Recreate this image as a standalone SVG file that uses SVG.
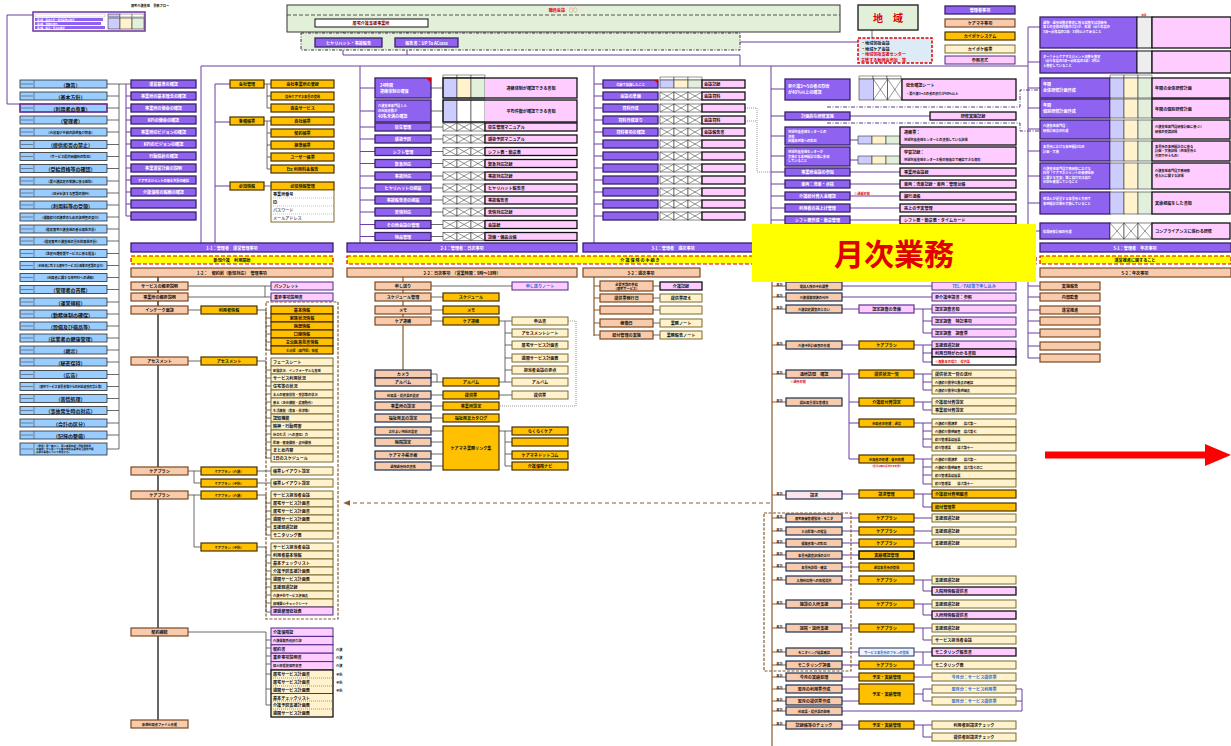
<svg xmlns="http://www.w3.org/2000/svg" width="1231" height="746" viewBox="0 0 1231 746">
<style>
text{font-family:"Noto Sans CJK JP","Noto Sans",sans-serif;font-size:5px;font-weight:700;text-anchor:middle;dominant-baseline:central;fill:#111}
.w{fill:#fff}.l{text-anchor:start}.s{font-size:4.1px}.t{font-size:3.2px}.r{fill:#e00000}.b{fill:#1f6fd0}
.pu{fill:#8f62f0;stroke:#3a2168;stroke-width:1.3}
.pk{fill:#ffccff;stroke:#4b2a85;stroke-width:1}
.pkb{fill:#ffccff;stroke:#111;stroke-width:1.3}
.or{fill:#ffc000;stroke:#4a3000;stroke-width:1.2}
.ly{fill:#fff2cc;stroke:#7a6a30;stroke-width:1}
.pe{fill:#f8cbad;stroke:#1f3050;stroke-width:1.2}
.pb{fill:#f8cbad;stroke:#7a4a20;stroke-width:1.2}
.c1{fill:#ccccff;stroke:#333;stroke-width:.6}.c2{fill:#fff2cc;stroke:#333;stroke-width:.6}.c3{fill:#e2efda;stroke:#333;stroke-width:.6}
.ob{fill:none;stroke:#111;stroke-width:1.3}
.cn{fill:none;stroke:#7a5aa8;stroke-width:1}
.cg{fill:none;stroke:#444;stroke-width:.8}
.cb{fill:none;stroke:#8b5a2b;stroke-width:1.2}
.cp{fill:none;stroke:#6a3fa0;stroke-width:1}
.cd{fill:none;stroke:#555;stroke-width:.6;stroke-dasharray:1,1}
.dd{fill:none;stroke:#5a3a8a;stroke-width:1;stroke-dasharray:4,1.5,1,1.5}
</style>
<defs>
<g id="x3"><rect width="14" height="8" fill="#fff" stroke="#333" stroke-width=".6"/><rect x="14" width="14" height="8" fill="#fff" stroke="#333" stroke-width=".6"/><rect x="28" width="14" height="8" fill="#fff" stroke="#333" stroke-width=".6"/><path d="M0 0L14 8M14 0L0 8M14 0L28 8M28 0L14 8M28 0L42 8M42 0L28 8" stroke="#333" stroke-width=".5" fill="none"/></g>
<g id="lb"><rect width="87" height="8" fill="#99ccff" stroke="#2a2a2a" stroke-width=".8"/><path d="M14 0v8M1 4h12" stroke="#333" stroke-width=".5" fill="none"/></g>
<g id="hd"><rect width="14" height="3" fill="#fff" stroke="#333" stroke-width=".5"/><rect x="14" width="14" height="3" fill="#fff" stroke="#333" stroke-width=".5"/><rect x="28" width="14" height="3" fill="#fff" stroke="#333" stroke-width=".5"/></g>
<marker id="ah" viewBox="0 0 10 10" refX="9" refY="5" markerWidth="6" markerHeight="6" orient="auto"><path d="M0 1L10 5L0 9z" fill="#8b5a2b"/></marker>
</defs>
<rect width="1231" height="746" fill="#fff"/>

<g id="connectors">
<path class="cp" d="M33 15H7V104H20"/>
<path class="cp" d="M343 27V55M407 27V55M343 55H740V66M382 42H395M458 42H858M201 66H1028M1028 27V232M1028 27H1040M1028 62H1040M1028 88H1040M1028 108H1040M1028 129H1040M1028 151H1040M1028 176H1040M1028 203H1040M1028 231H1040"/>
<path class="cg" d="M872 30V38"/>
<path class="cg" d="M107 84H131M119 84V449M107 96H119M107 108H119M107 120H119M107 132H119M107 144.5H119M107 156.5H119M107 168.5H119M107 181H119M107 193H119M107 205H119M107 217H119M107 229H119M107 241H119M107 253.5H119M107 265.5H119M107 277.5H119M107 289.5H119M107 302H119M107 314H119M107 326H119M107 338H119M107 350H119M107 362H119M107 374.5H119M107 386.5H119M107 398.5H119M107 410.5H119M107 423H119M107 435H119M107 449H119"/>
<path class="cp" d="M126 84V216M126 96H131M126 108H131M126 120H131M126 132H131M126 144H131M126 156H131M126 168H131M126 180H131M126 192H131M126 204H131M126 216H131M201 66V243M215 84V243M215 84H230M215 122H230M215 186H230"/>
<path class="cg" d="M264 84H271M267 84V108H271M267 96H271M264 121H271M267 121V169H271M267 133H271M267 145H271M267 157H271M264 186H271"/>
<path class="cp" d="M360 66V243M360 88H375M360 111H375M360 127H375M360 139H375M360 151.5H375M360 163.5H375M360 176H375M360 188H375M360 200H375M360 212H375M360 224.5H375M360 236.5H375"/>
<path class="cg" d="M431 88H443M431 111H443M431 127H443M431 139H443M431 151.5H443M431 163.5H443M431 176H443M431 188H443M431 200H443M431 212H443M431 224.5H443M431 236.5H443"/>
<path class="cp" d="M594 66V243M594 84H603M594 96H603M594 108H603M594 120H603M594 132H603M594 144H603M594 156H603M594 168H603M594 180H603M594 192H603M594 204H603M594 216H603"/>
<path class="cd" d="M745 108H757V172H771M745 121H757"/>
<path class="cp" d="M771 66V243M771 89H785M771 116H785M771 136H785M771 156H785M771 172H785M771 184H785M771 196H785M771 208H785M771 220H785M850 116H930M850 172H900M850 184H900M850 196H900M850 208H900M850 220H900M850 140H858M850 160H858"/>
<path class="dd" d="M827 107H1020V90H1040M827 123H1020V131H1040"/>
<path class="cp" d="M1028 272V358M1028 286H1040M1028 297H1040M1028 310H1040M1028 321H1040M1028 333H1040M1028 346H1040M1028 358H1040"/>
<path class="cb" d="M158 277V724" style="stroke:#333;stroke-width:1.5"/>
<path class="cg" d="M188 286H265V297M265 286H271M188 297H271M188 310H201M257 310H266V350H271M266 318H271M266 326H271M266 334H271M266 342H271M188 361H201M257 361H266V458H271M266 370H271M266 378H271M266 386H271M266 394H271M266 402H271M266 410H271M266 418H271M266 426H271M266 434H271M266 442H271M266 450H271M188 471H201M194 471V483H201M257 471H271M257 483H271M188 495H201M194 495V547H201M257 495H266V535H271M266 503H271M266 511H271M266 519H271M266 527H271M257 547H266V612H271M266 555H271M266 563H271M266 571H271M266 579H271M266 587H271M266 595H271M266 603H271M188 632H266V705H271M266 640H271M266 648H271M266 656H271M266 664H271M266 674H271M266 689H271"/>
<path class="cb" d="M403 277V374M403 286H431M403 297H375M403 310H375M403 321H375"/>
<path class="cg" d="M431 286H512M431 297H443M431 310H443M431 321H443M431 374H437V382M431 382H443M431 395H443M431 406H443M431 418H443M431 431H443M431 442H443M431 454H443M431 466H443M499 321H512M505 321V382H512M505 333H512M505 345H512M505 358H512M505 370H512M499 382H505M499 395H512M499 431H512M505 431V466H512M505 442H512M505 454H512"/>
<path class="cd" d="M568 321H576V406H499"/>
<path class="cb" d="M594 277V336M594 286H600M594 298H600M594 310H600M594 323H600M594 335H600"/>
<path class="cg" d="M653 286H660M653 298H660M653 310H660M653 323H660M653 335H660"/>
<path class="cb" d="M772 280V746"/>
<path class="cb" d="M772 286H786M772 297H786M772 309H786M772 345H786M772 374H786M772 402H786M772 495H786M772 518H786M772 531H786M772 543H786M772 555H786M772 567H786M772 580H786M772 604H786M772 628H786M772 652H786M772 665H786M772 677H786M772 689H786M772 701H786M772 711H786M772 725H786"/>
<path class="cp" d="M842 286H932M842 297H932M842 309H859M914 309H932M923 309V333H932M923 321H932M842 345H859M914 345H932M923 345V362H932M923 353H932M842 374H859M849 374V459H859M849 402H859M849 423H859M914 374H932M923 374V390H932M923 382H932M914 402H932M923 402V410H932M914 423H932M923 423V447H932M923 431H932M923 439H932M914 459H932M923 459V484H932M923 467H932M923 475H932M842 494H859M914 494H932M923 494V507H932M842 518H859M914 518H932M842 531H859M914 531H932M842 543H859M914 543H932M842 555H859M842 567H859M842 580H859M914 580H932M923 580V591H932M842 604H859M914 604H932M923 604V615H932M842 628H859M914 628H932M923 628V640H932M842 652H859M914 652H932M923 652V664M842 665H859M914 665H932M842 677H859M914 677H932M842 689H859M842 701H859M914 694H923V689H932M923 694V701H932M842 711H1022V689H1016M1016 701H1022M842 725H859M914 725H932M923 725V737H932"/>
<path class="cb" d="M770 503H344" style="stroke-dasharray:4,3" marker-end="url(#ah)"/>
</g>

<g id="title"><text x="150" y="5" class="t">居宅介護支援　業務フロー</text></g>
<g id="toc"><rect x="33" y="12" width="112" height="19" fill="#fff" stroke="#7030a0" stroke-width="1.5"/><rect x="35" y="14" width="70" height="3" fill="#fff" stroke="#888" stroke-width=".3"/><rect x="35" y="18" width="68" height="3" fill="#8f62f0"/><rect x="35" y="22" width="66" height="3" fill="#8f62f0"/><rect x="35" y="26" width="70" height="3" fill="#8f62f0"/><rect x="108" y="14" width="12" height="3" class="c1"/><rect x="120" y="14" width="12" height="3" fill="#fff" stroke="#333" stroke-width=".4"/><rect x="132" y="14" width="12" height="3" fill="#fff" stroke="#333" stroke-width=".4"/><rect x="108" y="18" width="12" height="11" class="c1"/><rect x="120" y="18" width="12" height="11" class="c2"/><rect x="132" y="18" width="12" height="11" class="c3"/><text x="37" y="19.5" class="t w l" style="font-size:2.4px">第1章　基本方針・運営基準の確認</text><text x="37" y="23.5" class="t w l" style="font-size:2.4px">第2章　業務の流れ</text><text x="37" y="27.5" class="t w l" style="font-size:2.4px">第3章　帳票・書式の確認</text></g>

<g id="meeting"><rect x="287" y="5" width="553" height="27" fill="#e2efd9" stroke="#333" stroke-width="1"/><path d="M287 15H840" stroke="#333" stroke-width=".8" stroke-dasharray="4,2"/><text x="563" y="10" class="r s">職員会議　○○</text><rect x="315" y="19" width="113" height="8" fill="#fff" stroke="#111" stroke-width="1"/><text x="371" y="23" class="s" style="fill:#7f0000">居宅介護支援事業所</text></g>
<g id="report"><rect x="301" y="33" width="439" height="17" fill="#e2efd9" stroke="#333" stroke-width="1" stroke-dasharray="3,1.5,1,1.5"/><rect x="315" y="38" width="67" height="9" class="pu"/><text x="348.5" y="42.5" class="s w">ヒヤリハット・事故報告</text><rect x="395" y="38" width="63" height="9" class="pu"/><text x="426.5" y="42.5" class="s w">報告書：UP To ACcess</text></g>
<g id="region"><rect x="858" y="5" width="60" height="25" fill="#e2efd9" stroke="#333" stroke-width="1.5"/><text x="888" y="17.5" class="r" style="font-size:10px">地　域</text></g>
<g id="region-box"><rect x="858" y="38" width="74" height="25" fill="#ddebf7" stroke="#e00000" stroke-width="1.5" stroke-dasharray="3,1.5"/><text x="861" y="43" class="l s">・地域包括会議</text><text x="861" y="48.5" class="l s">・地域ケア会議</text><text x="861" y="54" class="l s r">・地域包括支援センター</text><text x="861" y="59.5" class="l s r">主催する勉強会参加　等</text></g>
<g id="legend"><rect x="945" y="6" width="70" height="8" class="pu"/><text x="980" y="10" class="s w">管理者事項</text><rect x="945" y="19" width="70" height="8" class="pb"/><text x="980" y="23" class="s">ケアマネ事項</text><rect x="945" y="32" width="70" height="8" class="or"/><text x="980" y="36" class="s">カイポケシステム</text><rect x="945" y="45" width="70" height="8" class="ly"/><text x="980" y="49" class="s">カイポケ帳票</text><rect x="945" y="56" width="70" height="8" class="pk"/><text x="980" y="60" class="s">参照書式</text></g>

<g id="left-list">
<use href="#lb" x="20" y="80"/><text x="70.5" y="84">（趣旨）</text>
<use href="#lb" x="20" y="92"/><text x="70.5" y="96">（基本方針）</text>
<use href="#lb" x="20" y="104"/><rect x="20" y="104" width="87" height="8" fill="none" stroke="#7030a0" stroke-width="1.5"/><text x="70.5" y="108">（利用者の尊重）</text>
<use href="#lb" x="20" y="116"/><text x="70.5" y="120">（管理者）</text>
<use href="#lb" x="20" y="128"/><text x="70.5" y="132" class="t">（内容及び手続の説明及び同意）</text>
<use href="#lb" x="20" y="140.5"/><text x="70.5" y="144.5">（提供拒否の禁止）</text>
<use href="#lb" x="20" y="152.5"/><text x="70.5" y="156.5" class="t">（サービス提供困難時の対応）</text>
<use href="#lb" x="20" y="164.5"/><text x="70.5" y="168.5">（受給資格等の確認）</text>
<use href="#lb" x="20" y="177"/><text x="70.5" y="181" class="t">（要介護認定の申請に係る援助）</text>
<use href="#lb" x="20" y="189"/><text x="70.5" y="193" class="t">（身分を証する書類の携行）</text>
<use href="#lb" x="20" y="201"/><text x="70.5" y="205">（利用料等の受領）</text>
<use href="#lb" x="20" y="213"/><text x="70.5" y="217" class="t">（保険給付の請求のための証明書の交付）</text>
<use href="#lb" x="20" y="225"/><text x="70.5" y="229" class="t">（指定居宅介護支援の基本取扱方針）</text>
<use href="#lb" x="20" y="237"/><text x="70.5" y="241" class="t">（指定居宅介護支援の具体的取扱方針）</text>
<use href="#lb" x="20" y="249.5"/><text x="70.5" y="253.5" class="t">（法定代理受領サービスに係る報告）</text>
<use href="#lb" x="20" y="261.5"/><text x="70.5" y="265.5" class="t" style="font-size:2.9px">（利用者に対する居宅サービス計画等の書類の交付）</text>
<use href="#lb" x="20" y="273.5"/><text x="70.5" y="277.5" class="t">（利用者に関する市町村への通知）</text>
<use href="#lb" x="20" y="285.5"/><text x="70.5" y="289.5">（管理者の責務）</text>
<use href="#lb" x="20" y="298"/><text x="70.5" y="302">（運営規程）</text>
<use href="#lb" x="20" y="310"/><text x="70.5" y="314">（勤務体制の確保）</text>
<use href="#lb" x="20" y="322"/><text x="70.5" y="326">（設備及び備品等）</text>
<use href="#lb" x="20" y="334"/><text x="70.5" y="338">（従業者の健康管理）</text>
<use href="#lb" x="20" y="346"/><text x="70.5" y="350">（掲示）</text>
<use href="#lb" x="20" y="358"/><text x="70.5" y="362">（秘密保持）</text>
<use href="#lb" x="20" y="370.5"/><text x="70.5" y="374.5">（広告）</text>
<use href="#lb" x="20" y="382.5"/><text x="70.5" y="386.5" class="t" style="font-size:2.9px">（居宅サービス事業者等からの利益収受の禁止等）</text>
<use href="#lb" x="20" y="394.5"/><text x="70.5" y="398.5">（苦情処理）</text>
<use href="#lb" x="20" y="406.5"/><text x="70.5" y="410.5">（事故発生時の対応）</text>
<use href="#lb" x="20" y="419"/><text x="70.5" y="423">（会計の区分）</text>
<use href="#lb" x="20" y="431"/><text x="70.5" y="435">（記録の整備）</text>
<rect x="20" y="443" width="87" height="12" fill="#99ccff" stroke="#2a2a2a" stroke-width=".8"/><path d="M34 443v12M21 449h12" stroke="#333" stroke-width=".5"/><text x="36" y="446" class="t l" style="font-size:2.5px">（準用）第一条の二、第三条第四項（受給資格等</text><text x="36" y="449" class="t l" style="font-size:2.5px">の確認）から第二十七条の規定は基準該当居宅介護</text><text x="36" y="452" class="t l" style="font-size:2.5px">支援の事業について準用する。</text>
</g>

<g id="c1-admin">
<rect x="131" y="80" width="65" height="8" class="pu"/><text x="163.5" y="84" class="s w">運営基準の確認</text>
<rect x="131" y="92" width="65" height="8" class="pu"/><text x="163.5" y="96" class="s w">事業所の基本理念の確認</text>
<rect x="131" y="104" width="65" height="8" class="pu"/><text x="163.5" y="108" class="s w">事業所の使命の確認</text>
<rect x="131" y="116" width="65" height="8" class="pu"/><text x="163.5" y="120" class="s w">KPIの使命の確認</text>
<rect x="131" y="128" width="65" height="8" class="pu"/><text x="163.5" y="132" class="s w">事業所のビジョンの確認</text>
<rect x="131" y="140" width="65" height="8" class="pu"/><text x="163.5" y="144" class="s w">KPIのビジョンの確認</text>
<rect x="131" y="152" width="65" height="8" class="pu"/><text x="163.5" y="156" class="s w">行動指針の確認</text>
<rect x="131" y="164" width="65" height="8" class="pu"/><text x="163.5" y="168" class="s w">事業運営計画の説明</text>
<rect x="131" y="176" width="65" height="8" class="pu"/><text x="163.5" y="180" class="t w">ケアマネジメントの基本方針の確認</text>
<rect x="131" y="188" width="65" height="8" class="pu"/><text x="163.5" y="192" class="s w">介護保険の報酬の確認</text>
<rect x="131" y="200" width="65" height="8" class="pu"/>
<rect x="131" y="212" width="65" height="8" class="pu"/>
</g>
<g id="c1-sys">
<rect x="230" y="80" width="34" height="8" class="or"/><text x="247" y="84" class="s">会社管理</text>
<rect x="230" y="117" width="34" height="8" class="or"/><text x="247" y="121" class="s">各種帳票</text>
<rect x="230" y="182" width="34" height="8" class="or"/><text x="247" y="186" class="s">必須情報</text>
<rect x="271" y="80" width="63" height="8" class="or"/><text x="302.5" y="84" class="s">会社事業所の登録</text>
<rect x="271" y="92" width="63" height="8" class="or"/><text x="302.5" y="96" class="t">自社ケアマネ事業の登録</text>
<rect x="271" y="104" width="63" height="8" class="or"/><text x="302.5" y="108" class="s">自由サービス</text>
<rect x="271" y="117" width="63" height="8" class="or"/><text x="302.5" y="121" class="s">自社帳票</text>
<rect x="271" y="129" width="63" height="8" class="or"/><text x="302.5" y="133" class="s">契約帳票</text>
<rect x="271" y="141" width="63" height="8" class="or"/><text x="302.5" y="145" class="s">標準帳票</text>
<rect x="271" y="153" width="63" height="8" class="or"/><text x="302.5" y="157" class="s">ユーザー帳票</text>
<rect x="271" y="165" width="63" height="8" class="or"/><text x="302.5" y="169" class="s">Etc 利用料金報告</text>
<rect x="271" y="182" width="63" height="8" class="or"/><text x="302.5" y="186" class="s">必須情報管理</text>
<rect x="271" y="190" width="63" height="32" fill="#fff" stroke="#7a6a30" stroke-width="1"/><path d="M271 198H334M271 206H334M271 214H334" stroke="#888" stroke-width=".5" stroke-dasharray="1,1"/>
<text x="273" y="194" class="l s">事業所番号</text><text x="273" y="202" class="l s">ID</text><text x="273" y="210" class="l s" style="fill:#666">パスワード</text><text x="273" y="218" class="l s" style="fill:#666">メールアドレス</text>
</g>

<g id="c2-admin">
<rect x="375" y="78" width="56" height="20" class="pu"/><text x="380" y="85" class="l s w">24時間</text><text x="380" y="91" class="l s w">連絡体制の確保</text><path d="M426 78h5v5z" fill="#e00000"/>
<rect x="375" y="100" width="56" height="22" class="pu"/><text x="378" y="105" class="l t w">介護支援専門員１人</text><text x="378" y="110" class="l t w">の利用者数が</text><text x="378" y="116" class="l s w">40名未満の確認</text>
<use href="#hd" x="443" y="75"/>
<rect x="443" y="78" width="14" height="20" class="c1"/><rect x="457" y="78" width="14" height="20" class="c2"/><rect x="471" y="78" width="14" height="20" class="c3"/><rect x="485" y="78" width="92" height="20" fill="#ffccff"/><rect x="443" y="78" width="134" height="20" class="ob"/><text x="531" y="88" class="s">連絡体制が確認できる書類</text>
<rect x="443" y="100" width="14" height="22" class="c1"/><rect x="457" y="100" width="14" height="22" fill="#fff" stroke="#333" stroke-width=".6"/><rect x="471" y="100" width="14" height="22" fill="#fff" stroke="#333" stroke-width=".6"/><rect x="485" y="100" width="92" height="22" fill="#ffccff"/><rect x="443" y="100" width="134" height="22" class="ob"/><text x="531" y="111" class="s">平均件数が確認できる書類</text>
<rect x="375" y="123" width="56" height="8" class="pu"/><text x="403" y="127" class="s w">衛生管理</text>
<rect x="375" y="135" width="56" height="8" class="pu"/><text x="403" y="139" class="s w">感染予防</text>
<rect x="375" y="147.5" width="56" height="8" class="pu"/><text x="403" y="151.5" class="s w">シフト管理</text>
<rect x="375" y="159.5" width="56" height="8" class="pu"/><text x="403" y="163.5" class="s w">緊急対応</text>
<rect x="375" y="172" width="56" height="8" class="pu"/><text x="403" y="176" class="s w">事故対応</text>
<rect x="375" y="184" width="56" height="8" class="pu"/><text x="403" y="188" class="s w">ヒヤリハットの把握</text>
<rect x="375" y="196" width="56" height="8" class="pu"/><text x="403" y="200" class="s w">事故報告書の把握</text>
<rect x="375" y="208" width="56" height="8" class="pu"/><text x="403" y="212" class="s w">苦情対応</text>
<rect x="375" y="220.5" width="56" height="8" class="pu"/><text x="403" y="224.5" class="s w">その他会議の管理</text>
<rect x="375" y="232.5" width="56" height="8" class="pu"/><text x="403" y="236.5" class="s w">物品管理</text>
<use href="#x3" x="443" y="123"/><rect x="485" y="123" width="92" height="8" class="pkb"/><text x="488" y="127" class="l s">衛生管理マニュアル</text>
<use href="#x3" x="443" y="135"/><rect x="485" y="135" width="92" height="8" class="pkb"/><text x="488" y="139" class="l s">感染予防マニュアル</text>
<use href="#x3" x="443" y="147.5"/><rect x="485" y="147.5" width="92" height="8" class="pkb"/><text x="488" y="151.5" class="l s">シフト表・勤怠表</text>
<use href="#x3" x="443" y="159.5"/><rect x="485" y="159.5" width="92" height="8" class="pkb"/><text x="488" y="163.5" class="l s">緊急対応記録</text>
<use href="#x3" x="443" y="172"/><rect x="485" y="172" width="92" height="8" class="pkb"/><text x="488" y="176" class="l s">事故対応記録</text>
<use href="#x3" x="443" y="184"/><rect x="485" y="184" width="92" height="8" class="pkb"/><text x="488" y="188" class="l s">ヒヤリハット報告書</text>
<use href="#x3" x="443" y="196"/><rect x="485" y="196" width="92" height="8" class="pkb"/><text x="488" y="200" class="l s">事故報告書</text>
<use href="#x3" x="443" y="208"/><rect x="485" y="208" width="92" height="8" class="pkb"/><text x="488" y="212" class="l s">苦情対応記録</text>
<use href="#x3" x="443" y="220.5"/><rect x="485" y="220.5" width="92" height="8" class="pkb"/><text x="488" y="224.5" class="l s">会議録</text>
<use href="#x3" x="443" y="232.5"/><rect x="485" y="232.5" width="92" height="8" class="pkb"/><text x="488" y="236.5" class="l s">設備・備品台帳</text>
</g>

<g id="c3-admin">
<use href="#hd" x="660" y="77"/>
<rect x="603" y="80" width="55" height="8" class="pu"/><text x="630.5" y="84" class="t w">会議で協議したこと</text><path d="M654 80h4v4z" fill="#e00000"/>
<rect x="660" y="80" width="14" height="8" class="c1"/><rect x="674" y="80" width="14" height="8" class="c2"/><rect x="688" y="80" width="14" height="8" class="c3"/><rect x="702" y="80" width="43" height="8" class="pkb"/><text x="704" y="84" class="l s">会議記録</text>
<rect x="603" y="92" width="55" height="8" class="pu"/><text x="630.5" y="96" class="s w">会議の準備</text><use href="#x3" x="660" y="92"/><rect x="702" y="92" width="43" height="8" class="pkb"/><text x="704" y="96" class="l s">会議資料</text>
<rect x="603" y="104" width="55" height="8" class="pu"/><text x="630.5" y="108" class="s w">資料作成</text><use href="#x3" x="660" y="104"/><rect x="702" y="104" width="43" height="8" class="pkb"/>
<rect x="603" y="116" width="55" height="8" class="pu"/><text x="630.5" y="120" class="s w">資料作成送り</text><use href="#x3" x="660" y="116"/><rect x="702" y="116" width="43" height="8" class="pkb"/><text x="704" y="120" class="l s">会議資料</text>
<rect x="603" y="128" width="55" height="8" class="pu"/><text x="630.5" y="132" class="s w">資料事項の確認</text><use href="#x3" x="660" y="128"/><rect x="702" y="128" width="43" height="8" class="pkb"/><text x="704" y="132" class="l s">会議報告書</text>
<rect x="603" y="140" width="55" height="8" class="pu"/><use href="#x3" x="660" y="140"/><rect x="702" y="140" width="43" height="8" class="pkb"/>
<rect x="603" y="152" width="55" height="8" class="pu"/><use href="#x3" x="660" y="152"/><rect x="702" y="152" width="43" height="8" class="pkb"/>
<rect x="603" y="164" width="55" height="8" class="pu"/><use href="#x3" x="660" y="164"/><rect x="702" y="164" width="43" height="8" class="pkb"/>
<rect x="603" y="176" width="55" height="8" class="pu"/><use href="#x3" x="660" y="176"/><rect x="702" y="176" width="43" height="8" class="pkb"/>
<rect x="603" y="188" width="55" height="8" class="pu"/><use href="#x3" x="660" y="188"/><rect x="702" y="188" width="43" height="8" class="pkb"/>
<rect x="603" y="200" width="55" height="8" class="pu"/><use href="#x3" x="660" y="200"/><rect x="702" y="200" width="43" height="8" class="pkb"/>
<rect x="603" y="212" width="55" height="8" class="pu"/><use href="#x3" x="660" y="212"/><rect x="702" y="212" width="43" height="8" class="pkb"/>
</g>

<g id="c4-admin">
<use href="#hd" x="859" y="76"/>
<rect x="785" y="79" width="65" height="21" class="pu"/><text x="788" y="86" class="l s w">要介護3～5の者の割合</text><text x="788" y="92" class="l s w">が40％以上の確認</text>
<rect x="859" y="79" width="14.3" height="21" class="c1"/><rect x="873.3" y="79" width="14.3" height="21" fill="#fff" stroke="#333" stroke-width=".6"/><rect x="887.6" y="79" width="14.4" height="21" fill="#fff" stroke="#333" stroke-width=".6"/><path d="M873.3 79L887.6 100M887.6 79L873.3 100M887.6 79L902 100M902 79L887.6 100" stroke="#333" stroke-width=".5"/>
<rect x="902" y="79" width="114" height="21" class="pkb"/><text x="906" y="85" class="l s">総合確認シート</text><text x="906" y="93" class="l t">・要介護3～5の者の割合が40％以上</text>
<rect x="785" y="112" width="65" height="8" class="pu"/><text x="817.5" y="116" class="s w">計画的な研修実施</text>
<rect x="930" y="112" width="86" height="8" class="pkb"/><text x="973" y="116" class="s">研修実施記録</text>
<rect x="785" y="127" width="65" height="18" class="pu"/><text x="788" y="131.5" class="l t w">地域包括支援センターとの</text><text x="788" y="136" class="l t w">連携</text><text x="788" y="140.5" class="l t w">困難事例等への対応</text>
<rect x="858" y="136" width="14" height="8" class="c1"/><rect x="872" y="136" width="14" height="8" class="c2"/><rect x="886" y="136" width="14" height="8" class="c3"/>
<rect x="900" y="127" width="116" height="18" class="pkb"/><text x="904" y="132" class="l s">連絡票：</text><text x="904" y="139" class="l t">地域包括支援センターとの連携している記録</text>
<rect x="785" y="147" width="65" height="19" class="pu"/><text x="788" y="151.5" class="l t w">地域包括支援センターが</text><text x="788" y="156" class="l t w">実施する事例検討会等に参加</text><text x="788" y="160.5" class="l t w">していること</text>
<rect x="858" y="156" width="14" height="8" class="c1"/><rect x="872" y="156" width="14" height="8" class="c2"/><rect x="886" y="156" width="14" height="8" class="c3"/>
<rect x="900" y="147" width="116" height="17" class="pkb"/><text x="904" y="152" class="l s">学習記録：</text><text x="904" y="159" class="l t">地域包括支援センター主催の勉強会で確認できる資料</text>
<rect x="785" y="168" width="65" height="8" class="pu"/><text x="817.5" y="172" class="s w">事業所会議の参加</text><rect x="900" y="168" width="116" height="8" class="pkb"/><text x="904" y="172" class="l s">事業所会議録</text>
<rect x="785" y="180" width="65" height="8" class="pu"/><text x="817.5" y="184" class="s w">車両：洗車・点検</text><rect x="900" y="180" width="116" height="8" class="pkb"/><text x="904" y="184" class="l s">車両：洗車記録・車両：管理台帳</text>
<rect x="785" y="192" width="65" height="8" class="pu"/><text x="817.5" y="196" class="s w">介護給付費入金確認</text><text x="862" y="193" class="t r">※通帳可能</text><rect x="900" y="192" width="116" height="8" class="pkb"/><text x="904" y="196" class="l s">銀行通帳</text>
<rect x="785" y="204" width="65" height="8" class="pu"/><text x="817.5" y="208" class="s w">利用者の売上げ管理</text><rect x="900" y="204" width="116" height="8" class="pkb"/><text x="904" y="208" class="l s">売上の予実管理</text>
<rect x="785" y="216" width="65" height="8" class="pu"/><text x="817.5" y="220" class="s w">シフト表作成・勤怠管理</text><rect x="900" y="216" width="116" height="8" class="pkb"/><text x="904" y="220" class="l s">シフト表・勤怠表・タイムカード</text>
</g>

<g id="c5-admin">
<text x="1144" y="14.5" class="t r" style="font-size:2.4px">加算</text>
<rect x="1040" y="17" width="97" height="31" class="pu"/><text x="1043" y="22" class="l t w">退院・退所加算の算定に係る病院又は診療所</text><text x="1043" y="26.5" class="l t w">等との連携の回数の合計が、年間（前々年度の</text><text x="1043" y="31" class="l t w">3月～前年度の2月）35回以上であること</text>
<rect x="1137" y="17" width="15" height="31" fill="#eee" stroke="#111" stroke-width="1"/><rect x="1152" y="17" width="79" height="31" class="pkb"/>
<rect x="1040" y="51" width="97" height="22" class="pu"/><text x="1043" y="56" class="l t w">ターミナルケアマネジメント加算を算定</text><text x="1043" y="60.5" class="l t w">（前々年度の3月～前年度の2月）5回以</text><text x="1043" y="65" class="l t w">上算定していること</text>
<rect x="1137" y="51" width="15" height="22" fill="#eee" stroke="#111" stroke-width="1"/><rect x="1152" y="51" width="79" height="22" class="pkb"/>
<use href="#hd" x="1110" y="75"/>
<rect x="1040" y="78" width="70" height="20" class="pu"/><text x="1043" y="84" class="l s w">年間</text><text x="1043" y="90" class="l s w">全体研修計画作成</text>
<rect x="1110" y="78" width="14" height="20" class="c1"/><rect x="1124" y="78" width="14" height="20" class="c2"/><rect x="1138" y="78" width="14" height="20" class="c3"/><rect x="1152" y="78" width="78" height="20" class="pkb"/><text x="1155" y="88" class="l s">年間の全体研修計画</text>
<rect x="1040" y="99" width="70" height="19" class="pu"/><text x="1043" y="104.5" class="l s w">年間</text><text x="1043" y="110.5" class="l s w">個別研修計画作成</text>
<rect x="1110" y="99" width="14" height="19" class="c1"/><rect x="1124" y="99" width="14" height="19" class="c2"/><rect x="1138" y="99" width="14" height="19" class="c3"/><rect x="1152" y="99" width="78" height="19" class="pkb"/><text x="1155" y="108.5" class="l s">年間の個別研修計画</text>
<rect x="1040" y="120" width="70" height="19" class="pu"/><text x="1043" y="125" class="l t w">介護支援専門員：</text><text x="1043" y="130" class="l t w">研修計画表の作成</text>
<rect x="1110" y="120" width="14" height="19" class="c1"/><rect x="1124" y="120" width="14" height="19" class="c2"/><rect x="1138" y="120" width="14" height="19" class="c3"/><rect x="1152" y="120" width="78" height="19" class="pkb"/><text x="1155" y="126" class="l t">介護支援専門員研修計画に基づく</text><text x="1155" y="131" class="l t">研修の受講記録</text>
<rect x="1040" y="141" width="70" height="20" class="pu"/><text x="1043" y="146" class="l t w">事業所における事例検討会の</text><text x="1043" y="151" class="l t w">計画・実施</text>
<rect x="1110" y="141" width="14" height="20" class="c1"/><rect x="1124" y="141" width="14" height="20" class="c2"/><rect x="1138" y="141" width="14" height="20" class="c3"/><rect x="1152" y="141" width="78" height="20" class="pkb"/><text x="1155" y="146" class="l t">事業所の事例検討会に係る</text><text x="1155" y="150.5" class="l t">計画・実施記録（他事業所と</text><text x="1155" y="155" class="l t">共同で行うもの）</text>
<rect x="1040" y="163" width="70" height="26" class="pu"/><text x="1043" y="168" class="l t w">介護支援専門員実務研修における</text><text x="1043" y="172.5" class="l t w">科目「ケアマネジメントの基礎技術</text><text x="1043" y="177" class="l t w">に関する実習」等に協力又は協力</text><text x="1043" y="181.5" class="l t w">体制を確保していること</text>
<rect x="1110" y="163" width="14" height="26" class="c1"/><rect x="1124" y="163" width="14" height="26" class="c2"/><rect x="1138" y="163" width="14" height="26" class="c3"/><rect x="1152" y="163" width="78" height="26" class="pkb"/><text x="1155" y="170" class="l t">介護支援専門員実務研修</text><text x="1155" y="175" class="l t">受入れに関する記録</text>
<rect x="1040" y="192" width="70" height="22" class="pu"/><text x="1043" y="198" class="l t w">他法人が運営する事業所と共同で</text><text x="1043" y="203" class="l t w">事例検討会等を実施していること</text>
<rect x="1110" y="192" width="14" height="22" class="c1"/><rect x="1124" y="192" width="14" height="22" class="c2"/><rect x="1138" y="192" width="14" height="22" class="c3"/><rect x="1152" y="192" width="78" height="22" class="pkb"/><text x="1155" y="203" class="l s">実態把握をした書類</text>
<rect x="1040" y="223" width="70" height="16" class="pu"/><text x="1043" y="231" class="l t w">年間研修計画の作成</text>
<rect x="1110" y="223" width="14" height="16" fill="#fff" stroke="#333" stroke-width=".6"/><rect x="1124" y="223" width="14" height="16" fill="#fff" stroke="#333" stroke-width=".6"/><rect x="1138" y="223" width="14" height="16" fill="#fff" stroke="#333" stroke-width=".6"/><path d="M1110 223l14 16m0-16l-14 16M1124 223l14 16m0-16l-14 16M1138 223l14 16m0-16l-14 16" stroke="#333" stroke-width=".5"/>
<rect x="1152" y="223" width="78" height="16" class="pkb"/><text x="1155" y="231" class="l s">コンプライアンスに係わる研修</text>
</g>

<g id="bars">
<rect x="131" y="243" width="202" height="9" class="pu"/><text x="232" y="247.5" class="s w">1-1：管理者　運営管理事項</text>
<rect x="347" y="243" width="230" height="9" class="pu"/><text x="462" y="247.5" class="s w">2-1：管理者：日次事項</text>
<rect x="583" y="243" width="180" height="9" class="pu"/><text x="673" y="247.5" class="s w">3-1：管理者　週次事項</text>
<rect x="1040" y="243" width="191" height="9" class="pu"/><text x="1135" y="247.5" class="s w">5-1：管理者　年次事項</text>
<rect x="131" y="256" width="202" height="8" fill="#ffff00" stroke="#e00000" stroke-width="1.2" stroke-dasharray="4,2"/><text x="232" y="260" class="s">新規介護　利用開始</text>
<rect x="347" y="256" width="689" height="8" fill="#ffff00" stroke="#e00000" stroke-width="1.2" stroke-dasharray="4,2"/><text x="640" y="260" class="s">介 護 保 険 の 手 続 き</text>
<rect x="1040" y="256" width="191" height="8" fill="#ffff00" stroke="#e00000" stroke-width="1.2" stroke-dasharray="4,2"/><text x="1135" y="260" class="s">運営推進に関すること</text>
<rect x="131" y="268" width="202" height="9" class="pb"/><text x="232" y="272.5" class="s">1-2：　契約前（新規対応）　管理事項</text>
<rect x="347" y="268" width="230" height="9" class="pb"/><text x="462" y="272.5" class="s">2-2：日次事項　（営業時間：9時～18時）</text>
<rect x="583" y="268" width="117" height="9" class="pb"/><text x="641" y="272.5" class="s">3-2：週次事項</text>
<rect x="1040" y="268" width="191" height="9" class="pb"/><text x="1135" y="272.5" class="s">5-2：年次事項</text>
</g>

<g id="c1-care">
<rect x="131" y="282" width="57" height="8" class="pb"/><text x="159.5" y="286" class="s">サービスの概要説明</text>
<rect x="131" y="293" width="57" height="8" class="pb"/><text x="159.5" y="297" class="s">事業所の概要説明</text>
<rect x="131" y="306" width="57" height="8" class="pb"/><text x="159.5" y="310" class="s">インテーク面談</text>
<rect x="131" y="357" width="57" height="8" class="pb"/><text x="159.5" y="361" class="s">アセスメント</text>
<rect x="131" y="467" width="57" height="8" class="pb"/><text x="159.5" y="471" class="s">ケアプラン</text>
<rect x="131" y="491" width="57" height="8" class="pb"/><text x="159.5" y="495" class="s">ケアプラン</text>
<rect x="131" y="628" width="57" height="8" class="pb"/><text x="159.5" y="632" class="s">契約締結</text>
<rect x="131" y="720" width="57" height="8" class="pb"/><text x="159.5" y="724" class="t">新規利用者ファイル作成</text>
<rect x="201" y="306" width="56" height="8" class="or"/><text x="229" y="310" class="s">利用者情報</text>
<rect x="201" y="357" width="56" height="8" class="or"/><text x="229" y="361" class="s">アセスメント</text>
<rect x="201" y="467" width="56" height="8" class="or"/><text x="229" y="471" class="t">ケアプラン（介護）</text>
<rect x="201" y="479" width="56" height="8" class="or"/><text x="229" y="483" class="t">ケアプラン（予防）</text>
<rect x="201" y="491" width="56" height="8" class="or"/><text x="229" y="495" class="t">ケアプラン（介護）</text>
<rect x="201" y="543" width="56" height="8" class="or"/><text x="229" y="547" class="t">ケアプラン（予防）</text>
<rect x="271" y="282" width="62" height="8" class="pk"/><text x="274" y="286" class="l s">パンフレット</text>
<rect x="271" y="293" width="62" height="8" class="pk"/><text x="274" y="297" class="l s">重要事項説明書</text>
<rect x="271" y="306" width="62" height="8" class="or"/><text x="302" y="310" class="s">基本情報</text>
<rect x="271" y="314" width="62" height="8" class="or"/><text x="302" y="318" class="s">家族状況情報</text>
<rect x="271" y="322" width="62" height="8" class="or"/><text x="302" y="326" class="s">病歴情報</text>
<rect x="271" y="330" width="62" height="8" class="or"/><text x="302" y="334" class="s">口座情報</text>
<rect x="271" y="338" width="62" height="8" class="or"/><text x="302" y="342" class="s">主治医意見書情報</text>
<rect x="271" y="346" width="62" height="8" class="or"/><text x="302" y="350" class="t">主治医（専門医）情報</text>
<rect x="271" y="358" width="62" height="8" class="ly"/><text x="273" y="362" class="l s">フェースシート</text>
<rect x="271" y="366" width="62" height="8" class="ly"/><text x="273" y="370" class="l t">家族状況／インフォーマルな支援</text>
<rect x="271" y="374" width="62" height="8" class="ly"/><text x="273" y="378" class="l s">サービス利用状況</text>
<rect x="271" y="382" width="62" height="8" class="ly"/><text x="273" y="386" class="l s">住宅等の状況</text>
<rect x="271" y="390" width="62" height="8" class="ly"/><text x="273" y="394" class="l t">本人の健康状態・受診等の状況</text>
<rect x="271" y="398" width="62" height="8" class="ly"/><text x="273" y="402" class="l t">基本（身体機能・起居動作）</text>
<rect x="271" y="406" width="62" height="8" class="ly"/><text x="273" y="410" class="l t">生活機能（食事・排泄等）</text>
<rect x="271" y="414" width="62" height="8" class="ly"/><text x="273" y="418" class="l s">認知機能</text>
<rect x="271" y="422" width="62" height="8" class="ly"/><text x="273" y="426" class="l s">精神・行動障害</text>
<rect x="271" y="430" width="62" height="8" class="ly"/><text x="273" y="434" class="l t">社会生活（への適応）力</text>
<rect x="271" y="438" width="62" height="8" class="ly"/><text x="273" y="442" class="l t">医療・健康関係・虐待関係</text>
<rect x="271" y="446" width="62" height="8" class="ly"/><text x="273" y="450" class="l s">まとめ内容</text>
<rect x="271" y="454" width="62" height="8" class="ly"/><text x="273" y="458" class="l s">1日のスケジュール</text>
<rect x="271" y="467" width="62" height="8" class="ly"/><text x="273" y="471" class="l s">帳票レイアウト設定</text>
<rect x="271" y="479" width="62" height="8" class="ly"/><text x="273" y="483" class="l s">帳票レイアウト設定</text>
<rect x="271" y="491" width="62" height="8" class="ly"/><text x="273" y="495" class="l s">サービス担当者会議</text>
<rect x="271" y="499" width="62" height="8" class="ly"/><text x="273" y="503" class="l s">居宅サービス計画書</text>
<rect x="271" y="507" width="62" height="8" class="ly"/><text x="273" y="511" class="l s">居宅サービス計画書</text>
<rect x="271" y="515" width="62" height="8" class="ly"/><text x="273" y="519" class="l s">週間サービス計画表</text>
<rect x="271" y="523" width="62" height="8" class="ly"/><text x="273" y="527" class="l s">支援経過記録</text>
<rect x="271" y="531" width="62" height="8" class="ly"/><text x="273" y="535" class="l s">モニタリング表</text>
<rect x="271" y="543" width="62" height="8" class="ly"/><text x="273" y="547" class="l s">サービス担当者会議</text>
<rect x="271" y="551" width="62" height="8" class="ly"/><text x="273" y="555" class="l s">利用者基本情報</text>
<rect x="271" y="559" width="62" height="8" class="ly"/><text x="273" y="563" class="l s">基本チェックリスト</text>
<rect x="271" y="567" width="62" height="8" class="ly"/><text x="273" y="571" class="l s">介護予防支援計画表</text>
<rect x="271" y="575" width="62" height="8" class="ly"/><text x="273" y="579" class="l s">週間サービス計画表</text>
<rect x="271" y="583" width="62" height="8" class="ly"/><text x="273" y="587" class="l s">支援経過記録</text>
<rect x="271" y="591" width="62" height="8" class="ly"/><text x="273" y="595" class="l t">介護予防サービス評価表</text>
<rect x="271" y="599" width="62" height="8" class="ly"/><text x="273" y="603" class="l t">興味関心チェックシート</text>
<rect x="271" y="607" width="62" height="8" class="pk"/><text x="273" y="611" class="l s">課題整理総括表</text>
<rect x="266" y="302" width="72" height="317" fill="none" stroke="#8b5a2b" stroke-width="1.2" stroke-dasharray="3,1.5"/>
<rect x="271" y="628" width="62" height="8.4" class="pk"/><text x="273" y="632" class="l s">介護保険証</text>
<rect x="271" y="636.4" width="62" height="8.4" class="pk"/><text x="273" y="640.6" class="l t">介護保険負担割合証</text>
<rect x="271" y="644.8" width="62" height="8.4" class="pk"/><text x="273" y="649" class="l s">契約書</text>
<rect x="271" y="653.2" width="62" height="8.4" class="pk"/><text x="273" y="657.4" class="l s">重要事項説明書</text>
<rect x="271" y="661.6" width="62" height="8.4" class="pk"/><text x="273" y="665.8" class="l t">個人情報使用同意書</text>
<rect x="271" y="670" width="62" height="47" class="ly" style="stroke:#111;stroke-width:1.3"/><path d="M271 678H333M271 686H333M271 701H333M271 709H333" stroke="#555" stroke-width=".6" stroke-dasharray="1,1"/><path d="M271 693.5H333" stroke="#111" stroke-width=".8"/>
<text x="273" y="674" class="l s">居宅サービス計画書</text><text x="273" y="682" class="l s">居宅サービス計画書</text><text x="273" y="689.5" class="l s">週間サービス計画表</text><text x="273" y="697.5" class="l s">基本チェックリスト</text><text x="273" y="705" class="l s">介護予防支援計画表</text><text x="273" y="713" class="l s">週間サービス計画表</text>
<text x="336" y="649" class="l t">介護</text><text x="336" y="657" class="l t">介護</text><text x="336" y="665" class="l t">介護</text><text x="336" y="674" class="l t">予防</text><text x="336" y="682" class="l t">予防</text><text x="336" y="690" class="l t">予防</text>
</g>

<g id="c2-care">
<rect x="375" y="282" width="56" height="8" class="pb"/><text x="403" y="286" class="s">申し送り</text>
<rect x="375" y="293" width="56" height="8" class="pb"/><text x="403" y="297" class="s">スケジュール管理</text>
<rect x="375" y="306" width="56" height="8" class="pb"/><text x="403" y="310" class="s">メモ</text>
<rect x="375" y="317" width="56" height="8" class="pb"/><text x="403" y="321" class="s">ケア連絡</text>
<rect x="375" y="370" width="56" height="8" class="pb" style="stroke:#1f3050"/><text x="403" y="374" class="s">カメラ</text>
<rect x="375" y="378" width="56" height="8" class="pb" style="stroke:#1f3050"/><text x="403" y="382" class="s">アルバム</text>
<rect x="375" y="391" width="56" height="8" class="pb" style="stroke:#1f3050"/><text x="403" y="395" class="t">利用票・提供票の設定</text>
<rect x="375" y="402" width="56" height="8" class="pb" style="stroke:#1f3050"/><text x="403" y="406" class="s">事業所の設定</text>
<rect x="375" y="414" width="56" height="8" class="pb" style="stroke:#1f3050"/><text x="403" y="418" class="s">福祉用具の設定</text>
<rect x="375" y="427" width="56" height="8" class="pb" style="stroke:#1f3050"/><text x="403" y="431" class="t">お住まい地域の設定</text>
<rect x="375" y="438" width="56" height="8" class="pb" style="stroke:#1f3050"/><text x="403" y="442" class="s">病院設定</text>
<rect x="375" y="451" width="56" height="8" class="pb" style="stroke:#1f3050"/><text x="403" y="455" class="s">ケアマネ掲示板</text>
<rect x="375" y="462" width="56" height="8" class="pb" style="stroke:#1f3050"/><text x="403" y="466" class="t">退院退所時の連携</text>
<rect x="443" y="293" width="56" height="8" class="or"/><text x="471" y="297" class="s">スケジュール</text>
<rect x="443" y="306" width="56" height="8" class="or"/><text x="471" y="310" class="s">メモ</text>
<rect x="443" y="317" width="56" height="8" class="or"/><text x="471" y="321" class="s">ケア連絡</text>
<rect x="443" y="378" width="56" height="8" class="or"/><text x="471" y="382" class="s">アルバム</text>
<rect x="443" y="391" width="56" height="8" class="or"/><text x="471" y="395" class="s">提供票</text>
<rect x="443" y="402" width="56" height="8" class="or"/><text x="471" y="406" class="s">事業所設定</text>
<rect x="443" y="414" width="56" height="8" class="or"/><text x="471" y="418" class="s">福祉用具カタログ</text>
<rect x="443" y="426" width="56" height="44" class="or"/><text x="471" y="448" class="s">ケアマネ業務リンク集</text>
<rect x="512" y="282" width="56" height="8" class="pk"/><text x="540" y="286" class="s b">申し送りノート</text>
<rect x="512" y="317" width="56" height="8" class="ly"/><text x="540" y="321" class="s">申込書</text>
<rect x="512" y="329" width="56" height="8" class="ly"/><text x="540" y="333" class="s">アセスメントシート</text>
<rect x="512" y="341" width="56" height="8" class="ly"/><text x="540" y="345" class="s">居宅サービス計画書</text>
<rect x="512" y="354" width="56" height="8" class="ly"/><text x="540" y="358" class="s">週間サービス計画表</text>
<rect x="512" y="366" width="56" height="8" class="ly"/><text x="540" y="370" class="s">担当者会議の要点</text>
<rect x="512" y="378" width="56" height="8" class="ly"/><text x="540" y="382" class="s">アルバム</text>
<rect x="512" y="391" width="56" height="8" class="ly"/><text x="540" y="395" class="s">提供票</text>
<rect x="512" y="427" width="56" height="8" class="or"/><text x="540" y="431" class="s">らくらくケア</text>
<rect x="512" y="438" width="56" height="8" class="or"/>
<rect x="512" y="451" width="56" height="8" class="or"/><text x="540" y="455" class="s">ケアマネドットコム</text>
<rect x="512" y="462" width="56" height="8" class="or"/><text x="540" y="466" class="s">介護保険ナビ</text>
</g>

<g id="c3-care">
<rect x="600" y="281" width="53" height="10" class="pb"/><text x="626.5" y="284" class="t">必要書類の準備</text><text x="626.5" y="288" class="t">（居宅サービス）</text>
<rect x="600" y="294" width="53" height="8" class="pb"/><text x="626.5" y="298" class="s">提供票発行日</text>
<rect x="600" y="306" width="53" height="8" class="pb"/>
<rect x="600" y="319" width="53" height="8" class="pb"/><text x="626.5" y="323" class="s">稼働日</text>
<rect x="600" y="331" width="53" height="8" class="pb"/><text x="626.5" y="335" class="s">給付管理の実施</text>
<rect x="660" y="282" width="42" height="8" class="pkb"/><text x="681" y="286" class="s">介護記録</text>
<rect x="660" y="294" width="42" height="8" class="ly"/><text x="681" y="298" class="s">提供票控え</text>
<rect x="660" y="306" width="42" height="8" class="ly"/>
<rect x="660" y="319" width="42" height="8" class="ly"/><text x="681" y="323" class="s">業務ノート</text>
<rect x="660" y="331" width="42" height="8" class="ly"/><text x="681" y="335" class="s">業務報告ノート</text>
</g>

<g id="c4-care">
<text x="779.5" y="284" class="t">月次</text><text x="779.5" y="295" class="t">月次</text><text x="779.5" y="307" class="t">月次</text><text x="779.5" y="343" class="t">月次</text><text x="779.5" y="372" class="t">月次</text><text x="779.5" y="400" class="t">月次</text><text x="779.5" y="493" class="t">月次</text><text x="779.5" y="516" class="t">月次</text><text x="779.5" y="529" class="t">月次</text><text x="779.5" y="541" class="t">月次</text><text x="779.5" y="553" class="t">月次</text><text x="779.5" y="565" class="t">月次</text><text x="779.5" y="578" class="t">月次</text><text x="779.5" y="602" class="t">月次</text><text x="779.5" y="626" class="t">月次</text><text x="779.5" y="650" class="t">月次</text><text x="779.5" y="663" class="t">月次</text><text x="779.5" y="675" class="t">月次</text><text x="779.5" y="687" class="t">月次</text><text x="779.5" y="699" class="t">月次</text><text x="779.5" y="709" class="t">月次</text><text x="779.5" y="723" class="t">月次</text>
<rect x="786" y="282" width="56" height="8" class="pe"/><text x="814" y="286" class="t">電話入院の予約調整</text>
<rect x="786" y="293" width="56" height="8" class="pe"/><text x="814" y="297" class="t">介護保険申請の代行</text>
<rect x="786" y="305" width="56" height="8" class="pe"/><text x="814" y="309" class="t">介護認定調査の立会い</text>
<rect x="786" y="341" width="56" height="8" class="pe"/><text x="814" y="345" class="t">介護予防計画書の作成</text>
<rect x="786" y="370" width="56" height="8" class="pe"/><text x="814" y="374" class="s">通所訪問　確認</text><text x="790" y="381.5" class="l t r">※通所可能</text>
<rect x="786" y="398" width="56" height="8" class="pe"/><text x="814" y="402" class="t">福祉用具貸与管理表</text>
<rect x="786" y="491" width="56" height="8" class="pe" style="fill:#fce4ec"/><text x="814" y="495" class="s">請求</text>
<rect x="786" y="514" width="56" height="8" class="pe"/><text x="814" y="518" class="t">居宅療養管理指導・モニタ</text>
<rect x="786" y="527" width="56" height="8" class="pe"/><text x="814" y="531" class="t">主治医等への報告</text>
<rect x="786" y="539" width="56" height="8" class="pe"/><text x="814" y="543" class="t">保険者等への対応</text>
<rect x="786" y="551" width="56" height="8" class="pe"/><text x="814" y="555" class="t">事業所調査記録の送付</text>
<rect x="786" y="563" width="56" height="8" class="pe"/><text x="814" y="567" class="t">事業所訪問・確認</text>
<rect x="786" y="576" width="56" height="8" class="pe"/><text x="814" y="580" class="t">入院時病院への情報提供</text>
<rect x="786" y="600" width="56" height="8" class="pe"/><text x="814" y="604" class="s">施設の入所支援</text>
<rect x="786" y="624" width="56" height="8" class="pe"/><text x="814" y="628" class="s">退院・退所支援</text>
<rect x="786" y="648" width="56" height="8" class="pe"/><text x="814" y="652" class="t">モニタリング結果確認</text>
<rect x="786" y="661" width="56" height="8" class="pe"/><text x="814" y="665" class="s">モニタリング評価</text>
<rect x="786" y="673" width="56" height="8" class="pe"/><text x="814" y="677" class="s">今月の実績処理</text>
<rect x="786" y="685" width="56" height="8" class="pe"/><text x="814" y="689" class="s">翌月の利用票作成</text>
<rect x="786" y="697" width="56" height="8" class="pe"/><text x="814" y="701" class="s">翌月の提供票作成</text>
<rect x="786" y="707" width="56" height="8" class="pe"/><text x="814" y="711" class="t">利用票・提供票の配布</text>
<rect x="786" y="721" width="56" height="8" class="pe"/><text x="814" y="725" class="s">記録帳簿のチェック</text>
<rect x="764" y="513" width="87" height="158" fill="none" stroke="#8b5a2b" stroke-width="1.2" stroke-dasharray="3,1.5"/>
<rect x="859" y="305" width="55" height="8" class="pk" style="stroke:#6a3fa0;stroke-width:1.3"/><text x="886.5" y="309" class="s">認定調査の準備</text>
<rect x="859" y="341" width="55" height="8" class="or"/><text x="886.5" y="345" class="s">ケアプラン</text>
<rect x="859" y="370" width="55" height="8" class="or"/><text x="886.5" y="374" class="s">提供状況一覧</text>
<rect x="859" y="398" width="55" height="8" class="or"/><text x="886.5" y="402" class="s">介護給付費設定</text>
<rect x="859" y="419" width="55" height="8" class="or"/><text x="886.5" y="423" class="t">利用者の処理：通常</text>
<rect x="859" y="455" width="55" height="8" class="or"/><text x="886.5" y="459" class="t">利用者の処理：後日処理</text><text x="886.5" y="465.5" class="t r" style="font-size:2.4px">（翌月以降の請求分を処理）</text>
<rect x="859" y="490" width="55" height="8" class="or"/><text x="886.5" y="494" class="s">請求管理</text>
<rect x="859" y="514" width="55" height="8" class="or"/><text x="886.5" y="518" class="s">ケアプラン</text>
<rect x="859" y="527" width="55" height="8" class="or"/><text x="886.5" y="531" class="s">ケアプラン</text>
<rect x="859" y="539" width="55" height="8" class="or"/><text x="886.5" y="543" class="s">ケアプラン</text>
<rect x="859" y="551" width="55" height="8" class="or" style="stroke:#111;stroke-width:1.5"/><text x="886.5" y="555" class="s">実績確認管理</text>
<rect x="859" y="563" width="55" height="8" class="or"/><text x="886.5" y="567" class="t">通常事業所の登録</text>
<rect x="859" y="576" width="55" height="8" class="or"/><text x="886.5" y="580" class="s">ケアプラン</text>
<rect x="859" y="600" width="55" height="8" class="or"/><text x="886.5" y="604" class="s">ケアプラン</text>
<rect x="859" y="624" width="55" height="8" class="or"/><text x="886.5" y="628" class="s">ケアプラン</text>
<rect x="859" y="648" width="55" height="8" fill="#eef3ff" stroke="#1f3050" stroke-width="1"/><text x="886.5" y="652" class="t b">サービス事業所のプランの登録</text>
<rect x="859" y="661" width="55" height="8" class="or"/><text x="886.5" y="665" class="s">ケアプラン</text>
<rect x="859" y="673" width="55" height="8" class="or"/><text x="886.5" y="677" class="s">予定・実績管理</text>
<rect x="859" y="684" width="55" height="20" class="or"/><text x="886.5" y="694" class="s">予定・実績管理</text>
<rect x="859" y="721" width="55" height="8" class="or"/><text x="886.5" y="725" class="s">予定・実績管理</text>
<rect x="932" y="282" width="84" height="8" class="pk"/><text x="974" y="286" class="s b">TEL／FAX等で申し込み</text>
<rect x="932" y="293" width="84" height="8" class="pk"/><text x="935" y="297" class="l s">要介護申請書：参照</text>
<rect x="932" y="305" width="84" height="8" class="pk"/><text x="935" y="309" class="l s">認定調査書類</text>
<rect x="932" y="317" width="84" height="8" class="pk"/><text x="935" y="321" class="l s">認定調査　特記事項</text>
<rect x="932" y="329" width="84" height="8" class="pk"/><text x="935" y="333" class="l s">認定調査　調査票</text>
<rect x="932" y="341" width="84" height="8" class="pk"/><text x="935" y="345" class="l s">支援経過記録</text>
<rect x="932" y="349" width="84" height="8" class="pkb"/><text x="935" y="353" class="l s">利用日時がわかる書類</text>
<rect x="932" y="357" width="84" height="8" class="pkb" style="fill:#fff"/><text x="935" y="361" class="l t r">※複数月の場合：提供票</text>
<rect x="932" y="370" width="84" height="8" class="ly"/><text x="935" y="374" class="l s">提供状況一覧の送付</text>
<rect x="932" y="378" width="84" height="8" class="ly"/><text x="935" y="382" class="l t">介護給付費単位数表の確認</text>
<rect x="932" y="386" width="84" height="8" class="ly"/><text x="935" y="390" class="l t">介護給付費単位数明細表</text>
<rect x="932" y="398" width="84" height="8" class="ly"/><text x="935" y="402" class="l s">介護給付費設定</text>
<rect x="932" y="406" width="84" height="8" class="ly"/><text x="935" y="410" class="l s">事業給付費設定</text>
<rect x="932" y="419" width="84" height="8" class="ly"/><text x="935" y="423" class="l t">介護給付費請求　　様式第一</text>
<rect x="932" y="427" width="84" height="8" class="ly"/><text x="935" y="431" class="l t">介護給付費明細書　様式第七</text>
<rect x="932" y="435" width="84" height="8" class="ly"/><text x="935" y="439" class="l t">給付管理票総括票</text>
<rect x="932" y="443" width="84" height="8" class="ly"/><text x="935" y="447" class="l t">給付管理票　　様式第十一</text>
<rect x="932" y="455" width="84" height="8" class="ly"/><text x="935" y="459" class="l t">介護給付費請求　　様式第一</text>
<rect x="932" y="463" width="84" height="8" class="ly"/><text x="935" y="467" class="l t">介護給付費明細書　様式第七の二</text>
<rect x="932" y="471" width="84" height="8" class="ly"/><text x="935" y="475" class="l t">給付管理票総括票</text>
<rect x="932" y="479" width="84" height="8" class="ly"/><text x="935" y="483" class="l t">給付管理票　　様式第十一</text>
<rect x="932" y="490" width="84" height="8" class="or"/><text x="935" y="494" class="l s">介護給付費明細書</text>
<rect x="932" y="503" width="84" height="8" class="or"/><text x="935" y="507" class="l s">給付管理票</text>
<rect x="932" y="514" width="84" height="8" class="ly"/><text x="935" y="518" class="l s">支援経過記録</text>
<rect x="932" y="527" width="84" height="8" class="ly"/><text x="935" y="531" class="l s">支援経過記録</text>
<rect x="932" y="539" width="84" height="8" class="ly"/><text x="935" y="543" class="l s">支援経過記録</text>
<rect x="932" y="576" width="84" height="8" class="ly"/><text x="935" y="580" class="l s">支援経過記録</text>
<rect x="932" y="587" width="84" height="8" class="pkb"/><text x="935" y="591" class="l s">入院時情報提供書</text>
<rect x="932" y="600" width="84" height="8" class="ly"/><text x="935" y="604" class="l s">支援経過記録</text>
<rect x="932" y="611" width="84" height="8" class="pkb"/><text x="935" y="615" class="l s">入所時情報提供書</text>
<rect x="932" y="624" width="84" height="8" class="ly"/><text x="935" y="628" class="l s">支援経過記録</text>
<rect x="932" y="636" width="84" height="8" class="ly"/><text x="935" y="640" class="l s">サービス担当者会議</text>
<rect x="932" y="648" width="84" height="8" class="pkb"/><text x="935" y="652" class="l s">モニタリング報告書</text>
<rect x="932" y="661" width="84" height="8" class="ly"/><text x="935" y="665" class="l s">モニタリング表</text>
<rect x="932" y="673" width="84" height="8" class="ly"/><text x="974" y="677" class="s b">今月分：サービス提供票</text>
<rect x="932" y="685" width="84" height="8" class="ly"/><text x="974" y="689" class="s b">翌月分：サービス利用票</text>
<rect x="932" y="697" width="84" height="8" class="ly"/><text x="974" y="701" class="s b">翌月分：サービス提供票</text>
<rect x="932" y="721" width="84" height="8" class="ly"/><text x="974" y="725" class="s">利用者別請求チェック</text>
<rect x="932" y="733" width="84" height="8" class="ly"/><text x="974" y="737" class="s">提供者別請求チェック</text>
</g>

<g id="c5-care">
<rect x="1040" y="282" width="60" height="8" class="pb"/><text x="1070" y="286" class="s">実施報告</text>
<rect x="1040" y="293" width="60" height="8" class="pb"/><text x="1070" y="297" class="s">内部監査</text>
<rect x="1040" y="306" width="60" height="8" class="pb"/><text x="1070" y="310" class="s">運営推進</text>
<rect x="1040" y="317" width="60" height="8" class="pb"/>
<rect x="1040" y="329" width="60" height="8" class="pb"/>
<rect x="1040" y="342" width="60" height="8" class="pb"/>
<rect x="1040" y="354" width="60" height="8" class="pb"/>
</g>

<g id="monthly"><rect x="752" y="224" width="284" height="58" fill="#ffff00"/><text x="894" y="252" class="r" style="font-size:30px">月次業務</text></g>
<g id="red-arrow"><path d="M1045 455H1208" stroke="#ff0000" stroke-width="7"/><path d="M1205 444L1231 455L1205 466z" fill="#ff0000"/></g>
</svg>
